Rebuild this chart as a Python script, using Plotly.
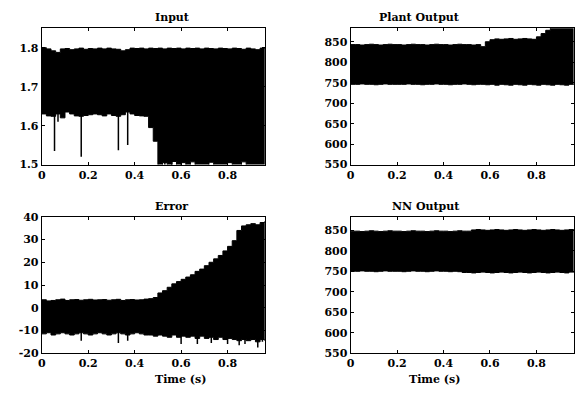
import plotly.graph_objects as go

# Time grid (s)
time_s = [round(i * 0.02, 2) for i in range(49)]

# ---- Input: envelope of the dense signal band ----
input_upper = [1.800, 1.797, 1.792, 1.788, 1.797, 1.798, 1.795, 1.797, 1.799, 1.796,
               1.798, 1.797, 1.799, 1.797, 1.799, 1.797, 1.796, 1.792, 1.795, 1.799,
               1.798, 1.799, 1.797, 1.799, 1.798, 1.799, 1.797, 1.799, 1.798, 1.799,
               1.797, 1.799, 1.798, 1.799, 1.797, 1.799, 1.798, 1.797, 1.799, 1.798,
               1.797, 1.799, 1.798, 1.796, 1.799, 1.797, 1.795, 1.799, 1.800]
input_lower = [1.630, 1.625, 1.624, 1.630, 1.620, 1.635, 1.630, 1.625, 1.624, 1.626,
               1.628, 1.630, 1.628, 1.625, 1.630, 1.626, 1.624, 1.628, 1.635, 1.630,
               1.626, 1.625, 1.624, 1.595, 1.560, 1.495, 1.505, 1.495, 1.508, 1.495,
               1.505, 1.495, 1.507, 1.495, 1.495, 1.495, 1.506, 1.495, 1.495, 1.495,
               1.505, 1.495, 1.495, 1.507, 1.495, 1.495, 1.495, 1.495, 1.495]
input_spike_t = [0.055, 0.07, 0.17, 0.33, 0.37, 0.53, 0.56, 0.60]
input_spike_tip = [1.535, 1.610, 1.520, 1.537, 1.550, 1.512, 1.525, 1.528]
input_spike_base = [1.70, 1.70, 1.70, 1.70, 1.70, 1.49, 1.49, 1.49]

# ---- Plant Output ----
plant_upper = [843, 843, 842, 843, 844, 843, 842, 843, 844, 843,
               843, 842, 843, 844, 843, 843, 842, 843, 844, 843,
               843, 842, 843, 844, 843, 843, 842, 843, 838, 850,
               855, 857, 856, 857, 858, 856, 857, 858, 857, 856,
               862, 870, 878, 895, 895, 895, 895, 895, 895]
plant_lower = [746, 746, 747, 746, 746, 745, 746, 747, 746, 746,
               746, 746, 747, 746, 746, 745, 746, 746, 747, 746,
               746, 745, 746, 746, 747, 746, 745, 746, 746, 745,
               746, 744, 746, 745, 744, 746, 745, 744, 746, 745,
               744, 746, 745, 744, 746, 745, 744, 746, 745]

# ---- Error ----
error_upper = [3.5, 3.0, 3.2, 3.5, 3.8, 3.2, 3.5, 3.6, 3.3, 3.5,
               3.7, 3.4, 3.5, 3.6, 3.3, 3.5, 3.7, 3.2, 3.5, 3.6,
               3.4, 3.5, 3.8, 4.0, 4.5, 6.5, 7.5, 9.0, 10.5, 11.5,
               12.5, 13.5, 14.5, 16.0, 17.0, 18.5, 20.0, 21.5, 23.0, 25.0,
               27.0, 29.5, 34.0, 36.0, 36.5, 37.0, 36.5, 37.5, 38.0]
error_lower = [-11.5, -11.0, -12.0, -11.5, -11.0, -11.5, -12.0, -11.5, -11.0, -11.5,
               -12.0, -11.5, -11.0, -11.5, -12.0, -11.5, -11.0, -11.5, -12.0, -11.5,
               -11.0, -11.5, -12.0, -12.0, -12.5, -12.0, -12.5, -13.0, -12.0, -13.0,
               -12.5, -13.0, -12.5, -13.5, -12.5, -13.5, -13.0, -14.0, -13.0, -14.0,
               -13.5, -14.0, -14.5, -14.0, -14.5, -14.0, -15.0, -14.0, -14.5]
error_spike_t = [0.17, 0.33, 0.37, 0.60, 0.67, 0.73, 0.80, 0.85, 0.875, 0.93, 0.95]
error_spike_tip = [-14.5, -15.5, -14.5, -16.0, -16.0, -15.5, -16.0, -16.5, -16.0, -17.5, -15.0]

# ---- NN Output ----
nn_upper = [848, 848, 847, 848, 849, 848, 847, 848, 849, 848,
            848, 847, 848, 849, 848, 848, 847, 848, 849, 848,
            848, 847, 848, 849, 848, 848, 851, 852, 851, 850,
            851, 852, 851, 850, 851, 852, 851, 850, 851, 852,
            851, 850, 851, 852, 851, 850, 851, 852, 851]
nn_lower = [750, 750, 751, 750, 750, 749, 750, 751, 750, 750,
            750, 749, 750, 751, 750, 750, 749, 750, 751, 750,
            750, 749, 750, 749, 747, 747, 746, 747, 748, 747,
            746, 747, 748, 747, 746, 747, 748, 747, 746, 747,
            748, 747, 746, 747, 748, 747, 746, 748, 747]

titles = ["Input", "Plant Output", "Error", "NN Output"]
x_ticks = [0, 0.2, 0.4, 0.6, 0.8]
x_tick_labels = ["0", "0.2", "0.4", "0.6", "0.8"]
input_y_ticks = [1.5, 1.6, 1.7, 1.8]
output_y_ticks = [550, 600, 650, 700, 750, 800, 850]
error_y_ticks = [-20, -10, 0, 10, 20, 30, 40]

W, H = 584, 395
FONT = "DejaVu Serif"

def px_x(p):
    return p / W

def px_y(p):
    return 1 - p / H

panels = [
    ("x", "y", (38, 263), (23, 164), input_upper, input_lower, [1.5, 1.85], input_y_ticks,
     ["1.5", "1.6", "1.7", "1.8"]),
    ("x2", "y2", (349, 574), (23, 164), plant_upper, plant_lower, [550, 883], output_y_ticks,
     [str(v) for v in output_y_ticks]),
    ("x3", "y3", (38, 263), (218, 359), error_upper, error_lower, [-20, 40], error_y_ticks,
     [str(v) for v in error_y_ticks]),
    ("x4", "y4", (349, 574), (218, 359), nn_upper, nn_lower, [550, 883], output_y_ticks,
     [str(v) for v in output_y_ticks]),
]

fig = go.Figure()
layout = dict(width=W, height=H, margin=dict(l=0, r=0, t=0, b=0),
              paper_bgcolor="white", plot_bgcolor="white", showlegend=False)

annotations = []
for i, (xa, ya, (x0, x1), (y0, y1), up, lo, yr, yt, ytl) in enumerate(panels):
    fig.add_trace(go.Scatter(x=time_s, y=lo, xaxis=xa, yaxis=ya, mode="lines",
                             line=dict(color="black", width=1, shape="hv"),
                             hoverinfo="skip"))
    fig.add_trace(go.Scatter(x=time_s, y=up, xaxis=xa, yaxis=ya, mode="lines",
                             line=dict(color="black", width=1, shape="hv"),
                             fill="tonexty", fillcolor="black", hoverinfo="skip"))
    sfx = "" if i == 0 else str(i + 1)
    layout["xaxis" + sfx] = dict(
        domain=[px_x(x0), px_x(x1)], range=[0, 0.962], anchor=ya,
        tickvals=x_ticks, ticktext=x_tick_labels, ticks="inside", ticklen=3,
        tickcolor="black", showline=True, linecolor="black", linewidth=1, mirror="ticks",
        showgrid=False, zeroline=False,
        tickfont=dict(family=FONT, size=11, color="black", weight="bold"))
    layout["yaxis" + sfx] = dict(
        domain=[px_y(y1), px_y(y0)], range=yr, anchor=xa,
        tickvals=yt, ticktext=ytl, ticks="inside", ticklen=3,
        tickcolor="black", showline=True, linecolor="black", linewidth=1, mirror="ticks",
        showgrid=False, zeroline=False,
        tickfont=dict(family=FONT, size=11, color="black", weight="bold"))
    annotations.append(dict(text=titles[i], x=(px_x(x0) + px_x(x1)) / 2, y=px_y(y0 - 11),
                            xref="paper", yref="paper", showarrow=False, yanchor="middle",
                            font=dict(family=FONT, size=11, color="black", weight="bold")))
    if i >= 2:
        annotations.append(dict(text="Time (s)", x=(px_x(x0) + px_x(x1)) / 2, y=px_y(386),
                                xref="paper", yref="paper", showarrow=False, yanchor="middle",
                                font=dict(family=FONT, size=11, color="black", weight="bold")))

def spike_trace(ts, tips, bases, xa, ya):
    xs, ys = [], []
    for t, tip, b in zip(ts, tips, bases):
        xs += [t, t, None]
        ys += [b, tip, None]
    return go.Scatter(x=xs, y=ys, xaxis=xa, yaxis=ya, mode="lines",
                      line=dict(color="black", width=1.5), hoverinfo="skip")

fig.add_trace(spike_trace(input_spike_t, input_spike_tip, input_spike_base, "x", "y"))
fig.add_trace(spike_trace(error_spike_t, error_spike_tip, [-5] * len(error_spike_t), "x3", "y3"))

layout["annotations"] = annotations
fig.update_layout(**layout)
fig.write_html("out.html", config={"displayModeBar": False},
               post_script="document.body.style.margin='0';document.body.style.overflow='hidden';")
